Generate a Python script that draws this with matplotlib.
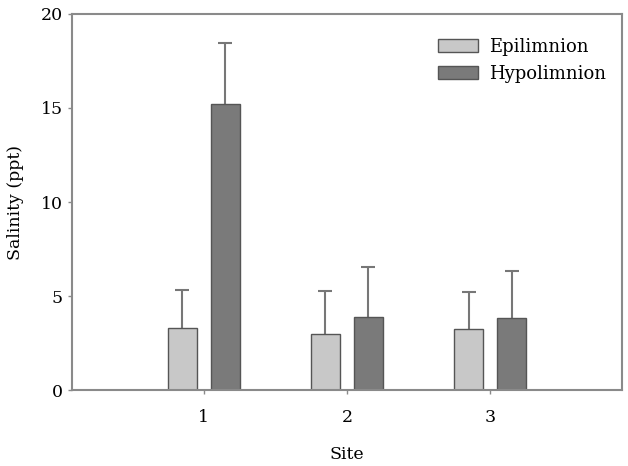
import numpy as np
import matplotlib
matplotlib.use('Agg')
import matplotlib.pyplot as plt

# Salinity per site
sites = ['1', '2', '3']
epi_mean = [3.3, 3.0, 3.25]
epi_err = [2.0, 2.25, 1.95]
hypo_mean = [15.2, 3.9, 3.85]
hypo_err = [3.25, 2.65, 2.5]

plt.rcParams['font.family'] = 'DejaVu Serif'

fig = plt.figure(figsize=(6.28, 4.66), dpi=100)
ax = fig.add_axes([0.1146, 0.163, 0.8758, 0.807])

x = np.arange(1, len(sites) + 1)
w = 0.2
edge = '#555555'

ax.bar(x - 0.15, epi_mean, w, color='#c8c8c8', edgecolor=edge, linewidth=1,
       label='Epilimnion', zorder=2)
ax.bar(x + 0.15, hypo_mean, w, color='#7a7a7a', edgecolor=edge, linewidth=1,
       label='Hypolimnion', zorder=2)

# upper error bars only, no cap at the bar top
for xs, m, e in [(x - 0.15, epi_mean, epi_err), (x + 0.15, hypo_mean, hypo_err)]:
    _, caps, _ = ax.errorbar(xs, m, yerr=[np.zeros(3), e], fmt='none',
                             ecolor='#777777', elinewidth=1.5, capsize=5,
                             capthick=1.5, zorder=1)
    caps[0].set_visible(False)

ax.set_xlim(0.08, 3.92)
ax.set_ylim(0, 20)
ax.set_xticks(x)
ax.set_xticklabels(sites)
ax.set_yticks([0, 5, 10, 15, 20])

for s in ax.spines.values():
    s.set_color('#8a8a8a')
    s.set_linewidth(1.5)
ax.tick_params(colors='#8a8a8a', length=3, width=1, labelcolor='black',
               labelsize=12.5)
ax.tick_params(axis='x', pad=11)

ax.set_xlabel('Site', fontsize=12.5, labelpad=14)
ax.set_ylabel('Salinity (ppt)', fontsize=12.5, labelpad=12)

ax.legend(loc='upper right', frameon=False, fontsize=13, handlelength=2.2,
          handleheight=0.8, handletextpad=0.6, labelspacing=0.5,
          bbox_to_anchor=(1.0, 0.98))

fig.savefig('out.png', dpi=100)
